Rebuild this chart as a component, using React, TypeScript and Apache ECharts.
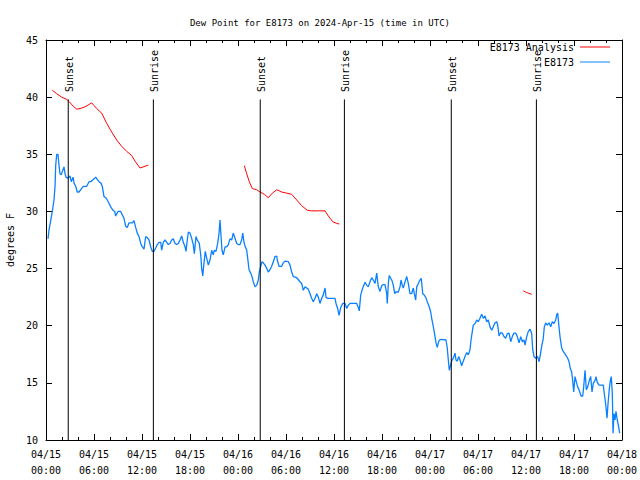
import React, { useEffect, useRef } from "react";
import * as echarts from "echarts";

// Hours since 2024-04-15 00:00 UTC
const obsTimes = [
  0.25, 0.38, 0.59, 0.79, 1.0, 1.13, 1.21, 1.34, 1.5, 1.63, 1.75, 1.91, 2.04, 2.25, 2.38, 2.5, 2.75, 3.0, 3.16, 3.38,
  3.5, 3.71, 3.91, 4.13, 4.34, 4.66, 5.09, 5.38, 5.59, 5.91, 6.21, 6.41, 6.63, 6.84, 7.04, 7.25, 7.46, 7.66, 7.88, 8.09,
  8.38, 8.59, 8.71, 9.0, 9.34, 9.54, 9.75, 9.96, 10.16, 10.38, 10.59, 10.79, 11.0, 11.21, 11.41, 11.63, 11.84, 12.04, 12.25, 12.46,
  12.66, 12.88, 13.09, 13.29, 13.5, 13.71, 13.91, 14.13, 14.34, 14.46, 14.66, 14.88, 15.09, 15.29, 15.5, 15.71, 15.91, 16.13, 16.34, 16.54,
  16.75, 16.96, 17.16, 17.38, 17.5, 17.66, 17.79, 18.0, 18.21, 18.41, 18.54, 18.75, 18.91, 19.16, 19.34, 19.46, 19.59, 19.75, 19.91, 20.09,
  20.29, 20.5, 20.71, 20.91, 21.04, 21.25, 21.46, 21.63, 21.75, 21.88, 22.0, 22.16, 22.38, 22.59, 22.79, 23.0, 23.21, 23.41, 23.63, 23.84,
  24.04, 24.25, 24.46, 24.59, 24.75, 24.91, 25.09, 25.21, 25.38, 25.59, 25.75, 25.91, 26.13, 26.34, 26.54, 26.66, 26.84, 27.0, 27.16, 27.38,
  27.59, 27.79, 28.0, 28.21, 28.41, 28.63, 28.84, 28.91, 29.13, 29.46, 29.66, 29.88, 30.29, 30.5, 30.71, 30.91, 31.34, 31.75, 31.96, 32.16,
  32.38, 32.59, 32.79, 33.0, 33.21, 33.41, 33.63, 33.84, 34.04, 34.25, 34.46, 34.66, 34.88, 35.0, 35.16, 35.5, 36.13, 36.25, 36.46, 36.63,
  36.84, 37.09, 37.38, 37.59, 37.79, 38.0, 38.84, 39.04, 39.16, 39.34, 39.59, 39.88, 40.09, 40.29, 40.5, 40.71, 40.91, 41.13, 41.34, 41.54,
  41.75, 41.96, 42.16, 42.38, 42.59, 42.66, 42.79, 42.91, 43.09, 43.25, 43.41, 43.59, 43.75, 44.04, 44.25, 44.38, 44.54, 44.66, 44.88, 45.09,
  45.29, 45.5, 45.71, 45.91, 46.04, 46.21, 46.34, 46.54, 46.75, 46.91, 47.09, 47.25, 47.46, 47.66, 47.88, 48.09, 48.21, 48.34, 48.5, 48.63,
  48.75, 48.91, 49.04, 49.16, 49.38, 50.0, 50.16, 50.29, 50.41, 50.59, 50.75, 50.91, 51.13, 51.25, 51.41, 51.59, 51.75, 51.96, 52.16, 52.38,
  52.59, 52.79, 53.0, 53.13, 53.29, 53.41, 53.63, 53.84, 54.04, 54.25, 54.46, 54.66, 54.88, 55.09, 55.29, 55.5, 55.71, 55.91, 56.13, 56.34,
  56.46, 56.63, 56.84, 57.04, 57.25, 57.46, 57.66, 57.88, 58.09, 58.29, 58.5, 58.71, 58.91, 59.13, 59.34, 59.54, 59.75, 59.88, 60.09, 60.29,
  60.5, 60.71, 60.84, 61.0, 61.21, 61.46, 61.63, 61.79, 61.96, 62.16, 62.29, 62.46, 62.66, 62.88, 63.09, 63.29, 63.5, 63.71, 63.84, 63.96,
  64.04, 64.25, 64.46, 64.66, 64.96, 65.21, 65.38, 65.54, 65.71, 65.84, 65.96, 66.13, 66.25, 66.46, 66.63, 66.88, 67.09, 67.21, 67.38, 67.54,
  67.71, 67.91, 68.09, 68.25, 68.41, 68.63, 68.75, 68.91, 69.13, 69.66, 69.79, 69.96, 70.13, 70.25, 70.41, 70.54, 70.66, 70.79, 70.88, 71.0,
  71.13, 71.25, 71.41, 71.54, 71.71,
];
const obsValues = [
  27.6, 28.4, 29.2, 30.0, 31.0, 32.2, 34.0, 35.0, 35.0, 34.0, 33.3, 33.2, 33.5, 33.9, 33.3, 33.0, 32.9, 33.1, 32.6, 33.0,
  32.5, 32.2, 31.7, 31.7, 31.9, 32.2, 32.2, 32.6, 32.6, 32.8, 33.0, 32.8, 32.6, 32.5, 32.2, 31.3, 31.2, 31.0, 30.7, 30.4,
  30.1, 30.0, 29.6, 30.0, 30.0, 29.7, 29.4, 28.7, 28.6, 29.0, 29.0, 29.0, 29.2, 28.6, 28.1, 27.8, 27.2, 26.9, 26.7, 27.8,
  27.7, 27.5, 26.9, 26.5, 26.5, 26.8, 27.1, 27.3, 27.3, 26.6, 27.3, 27.5, 27.3, 27.1, 27.2, 27.5, 27.6, 27.2, 27.1, 27.2,
  27.5, 27.85, 27.3, 26.9, 26.5, 27.5, 28.2, 28.1, 27.65, 27.1, 26.3, 27.8, 27.5, 27.2, 26.2, 25.0, 24.35, 25.5, 26.5, 25.9,
  25.3, 25.75, 26.6, 26.2, 26.6, 26.5, 27.2, 28.1, 29.25, 27.8, 26.6, 26.2, 26.9, 26.9, 27.1, 27.6, 27.5, 28.1, 27.65, 27.2,
  27.1, 27.1, 27.5, 28.1, 27.3, 26.9, 26.6, 25.9, 24.9, 24.6, 24.3, 23.85, 23.4, 23.55, 24.0, 24.7, 25.2, 25.6, 25.5, 25.3,
  25.0, 24.7, 24.9, 25.2, 25.6, 26.05, 26.1, 25.75, 25.2, 25.2, 25.5, 25.65, 25.6, 25.3, 24.7, 24.3, 24.2, 23.85, 23.7, 23.1,
  23.4, 23.3, 23.2, 22.8, 22.4, 22.1, 22.4, 22.8, 22.5, 21.95, 22.4, 22.7, 23.3, 22.5, 22.4, 22.4, 22.4, 21.95, 21.5, 20.9,
  21.6, 21.95, 21.95, 21.5, 21.8, 21.95, 21.95, 21.6, 21.3, 22.7, 23.3, 23.8, 23.55, 23.4, 23.85, 24.2, 24.0, 23.7, 24.6, 23.4,
  23.0, 23.5, 23.6, 23.6, 22.8, 21.95, 23.7, 24.4, 24.15, 23.95, 23.55, 22.8, 22.95, 22.95, 23.4, 24.0, 23.5, 23.3, 23.85, 24.3,
  23.7, 22.8, 22.8, 23.3, 22.8, 22.25, 23.4, 23.7, 24.0, 24.15, 22.8, 22.7, 22.5, 22.1, 21.7, 21.2, 20.65, 20.2, 19.6, 19.05,
  18.5, 18.1, 18.5, 18.75, 18.8, 18.75, 18.05, 17.0, 16.1, 16.6, 17.0, 17.15, 17.6, 17.0, 16.9, 17.3, 17.0, 16.5, 16.9, 17.3,
  17.65, 17.45, 17.9, 18.75, 19.5, 20.05, 20.2, 20.5, 20.35, 20.65, 21.0, 20.65, 20.85, 20.35, 20.5, 19.9, 19.6, 19.9, 20.25, 20.35,
  20.05, 19.1, 19.4, 19.35, 19.05, 18.9, 19.3, 19.35, 18.6, 19.05, 19.35, 19.35, 19.05, 18.5, 19.05, 18.6, 18.75, 18.3, 19.05, 19.5,
  19.7, 19.35, 17.9, 17.3, 17.15, 17.3, 16.85, 17.45, 18.2, 18.9, 19.9, 20.25, 20.05, 20.25, 19.9, 20.35, 20.2, 20.5, 20.95, 21.1,
  20.5, 19.05, 18.05, 17.75, 17.45, 17.15, 16.85, 16.25, 15.95, 15.2, 14.2, 15.55, 15.2, 14.65, 14.4, 13.85, 13.85, 14.65, 16.1, 14.4,
  14.65, 15.2, 15.55, 14.2, 14.95, 15.2, 15.55, 15.05, 14.8, 14.8, 14.05, 13.15, 11.9, 13.15, 14.45, 15.2, 15.55, 14.05, 10.6, 12.3,
  11.75, 12.5, 11.75, 11.3, 10.6,
];

// Analysis series (null = gap)
const anaTimes = [
  0.79, 1.34, 1.96, 2.59, 2.91, 3.41, 3.84, 4.25, 4.88, 5.71, 6.34, 6.96, 7.59, 8.21, 8.84, 9.46, 10.09, 10.71, 11.13, 11.75,
  12.16, 12.79, 18.0,
  24.79, 25.09, 25.41, 25.79, 26.34, 26.75, 27.29, 27.79, 28.29, 28.84, 29.46, 30.09, 30.71, 31.34, 31.96, 32.66, 33.21, 34.88, 35.29,
  35.84, 36.34, 36.66, 48.0,
  59.66, 60.09, 60.71,
];
const anaValues: (number | null)[] = [
  40.6, 40.3, 40.0, 39.8, 39.6, 39.2, 38.95, 39.0, 39.15, 39.5, 39.0, 38.6, 37.7, 36.95, 36.25, 35.7, 35.25, 34.9, 34.4, 33.8,
  33.9, 34.05, null,
  34.0, 33.3, 32.6, 32.0, 31.9, 31.7, 31.5, 31.2, 31.6, 31.9, 31.7, 31.6, 31.5, 31.0, 30.5, 30.1, 30.05, 30.05, 29.6,
  29.1, 28.95, 28.9, null,
  23.05, 22.9, 22.75,
];

const sunTimes = [2.78, 13.42, 26.78, 37.3, 50.66, 61.3];
const sunLabels = ["Sunset", "Sunrise", "Sunset", "Sunrise", "Sunset", "Sunrise"];
const dayLabels = ["04/15", "04/16", "04/17", "04/18"];

const FONT = "DejaVu Sans Mono";

export default function App() {
  const ref = useRef<HTMLDivElement>(null);
  useEffect(() => {
    if (!ref.current) return;
    const chart = echarts.init(ref.current, null, { renderer: "svg" });
    const obs = obsTimes.map((t, i) => [t, obsValues[i]]);
    const ana = anaTimes.map((t, i) => [t, anaValues[i]]);
    const sun = sunTimes.map((t, i) => [t, 10, sunLabels[i]]);
    const fmt = (v: number) => {
      const d = Math.floor(v / 24);
      const h = v - d * 24;
      return `${dayLabels[d]}\n${String(h).padStart(2, "0")}:00`;
    };
    const axisCommonX = {
      type: "value",
      min: 0,
      max: 72,
      interval: 6,
      axisLine: { show: true, onZero: false, lineStyle: { color: "#000", width: 1 } },
      axisTick: { show: true, inside: true, length: 6, lineStyle: { color: "#000" } },
      minorTick: { show: true, splitNumber: 3, length: 3, lineStyle: { color: "#000" } },
      splitLine: { show: false },
    };
    const axisCommonY = {
      type: "value",
      min: 10,
      max: 45,
      interval: 5,
      axisLine: { show: true, onZero: false, lineStyle: { color: "#000", width: 1 } },
      axisTick: { show: true, inside: true, length: 6, lineStyle: { color: "#000" } },
      splitLine: { show: false },
    };
    chart.setOption({
      animation: false,
      textStyle: { fontFamily: FONT },
      title: {
        text: "Dew Point for E8173 on 2024-Apr-15 (time in UTC)",
        left: "center",
        top: 13,
        textStyle: { fontFamily: FONT, fontSize: 9, fontWeight: "normal", color: "#000" },
      },
      grid: { left: 46, right: 18, top: 40, bottom: 40, containLabel: false, outerBoundsMode: "none" },
      legend: {
        data: ["E8173 Analysis", "E8173"],
        orient: "vertical",
        right: 25,
        top: 37,
        align: "right",
        itemWidth: 30,
        itemHeight: 1,
        itemGap: 5,
        icon: "rect",
        textStyle: { fontFamily: FONT, fontSize: 10, color: "#000", padding: [0, 1, 0, 0] },
      },
      xAxis: [
        {
          ...axisCommonX,
          position: "bottom",
          axisLabel: { formatter: fmt, fontFamily: FONT, fontSize: 10, color: "#000", lineHeight: 16, margin: 6 },
        },
        { ...axisCommonX, position: "top", axisLabel: { show: false } },
      ],
      yAxis: [
        {
          ...axisCommonY,
          position: "left",
          name: "degrees F",
          nameLocation: "middle",
          nameGap: 31,
          nameRotate: 90,
          nameTextStyle: { fontFamily: FONT, fontSize: 10, color: "#000" },
          axisLabel: { fontFamily: FONT, fontSize: 10, color: "#000", margin: 8 },
        },
        { ...axisCommonY, position: "right", axisLabel: { show: false } },
      ],
      series: [
        {
          name: "E8173 Analysis",
          type: "line",
          data: ana,
          showSymbol: false,
          symbol: "none",
          connectNulls: false,
          lineStyle: { color: "#ff0000", width: 1 },
          itemStyle: { color: "#ff0000" },
          z: 3,
        },
        {
          name: "E8173",
          type: "line",
          data: obs,
          showSymbol: false,
          symbol: "none",
          lineStyle: { color: "#0a80ff", width: 1.3 },
          itemStyle: { color: "#0a80ff" },
          z: 3,
        },
        {
          name: "sun",
          type: "custom",
          data: sun,
          z: 4,
          renderItem: (params: any, api: any) => {
            const t = api.value(0);
            const p0 = api.coord([t, 10]);
            const p1 = api.coord([t, 39.8]);
            const pt = api.coord([t, 40.45]);
            return {
              type: "group",
              children: [
                {
                  type: "line",
                  shape: { x1: p0[0], y1: p0[1], x2: p1[0], y2: p1[1] },
                  style: { stroke: "#000", lineWidth: 1 },
                },
                {
                  type: "text",
                  x: pt[0] + 1,
                  y: pt[1],
                  rotation: Math.PI / 2,
                  style: {
                    text: sunLabels[params.dataIndex],
                    fontFamily: FONT,
                    fontSize: 10,
                    fill: "#000",
                    align: "left",
                    verticalAlign: "middle",
                  },
                },
              ],
            };
          },
        },
      ],
    });
    return () => chart.dispose();
  }, []);
  return <div ref={ref} style={{ width: 640, height: 480, position: "absolute", left: 0, top: 0 }} />;
}
